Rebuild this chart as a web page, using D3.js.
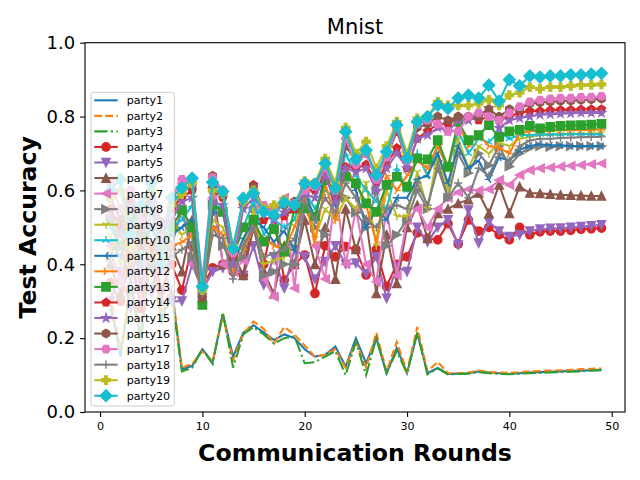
<!DOCTYPE html>
<html>
<head>
<meta charset="utf-8">
<script src="https://cdn.jsdelivr.net/npm/d3@7"></script>
<style>
  body { margin: 0; background: #fff; }
  svg { display: block; font-family: "DejaVu Sans", sans-serif; }
</style>
</head>
<body>
<svg id="chart" width="640" height="480"></svg>
<script>
// communication rounds 1..49
const rounds = d3.range(1, 50);

const party1 = [0.30, 0.15, 0.35, 0.20, 0.45, 0.25, 0.33,
  0.115, 0.125, 0.17, 0.135, 0.265, 0.15, 0.215, 0.235, 0.215, 0.195,
  0.21, 0.20, 0.17, 0.15, 0.155, 0.177, 0.123, 0.20, 0.132, 0.20,
  0.105, 0.173, 0.105, 0.214, 0.105, 0.119, 0.103, 0.104, 0.105, 0.11,
  0.107, 0.105, 0.103, 0.105, 0.107, 0.108, 0.109, 0.11, 0.111, 0.112,
  0.113, 0.114];
const party2 = [0.32, 0.17, 0.33, 0.22, 0.43, 0.27, 0.34,
  0.12, 0.13, 0.165, 0.135, 0.26, 0.14, 0.21, 0.245, 0.225, 0.185,
  0.23, 0.21, 0.18, 0.15, 0.155, 0.17, 0.12, 0.19, 0.12, 0.215,
  0.11, 0.19, 0.11, 0.23, 0.11, 0.136, 0.105, 0.105, 0.107, 0.112,
  0.108, 0.107, 0.106, 0.108, 0.11, 0.111, 0.112, 0.113, 0.114, 0.116,
  0.117, 0.118];
const party3 = [0.28, 0.16, 0.34, 0.19, 0.44, 0.24, 0.32,
  0.11, 0.12, 0.17, 0.13, 0.27, 0.12, 0.21, 0.23, 0.21, 0.185,
  0.20, 0.205, 0.132, 0.135, 0.15, 0.165, 0.10, 0.19, 0.10, 0.20,
  0.105, 0.165, 0.105, 0.215, 0.102, 0.118, 0.102, 0.103, 0.104, 0.108,
  0.105, 0.103, 0.102, 0.104, 0.105, 0.106, 0.107, 0.108, 0.109, 0.11,
  0.112, 0.113];
const party4 = [0.35, 0.30, 0.42, 0.28, 0.45, 0.33, 0.40,
  0.33, 0.45, 0.34, 0.39, 0.40, 0.38, 0.37, 0.55, 0.40, 0.53,
  0.357, 0.40, 0.425, 0.321, 0.45, 0.42, 0.448, 0.44, 0.371, 0.44,
  0.34, 0.40, 0.42, 0.485, 0.47, 0.466, 0.51, 0.455, 0.52, 0.49,
  0.50, 0.48, 0.466, 0.50, 0.48, 0.488, 0.49, 0.49, 0.492, 0.495,
  0.496, 0.498];
const party5 = [0.30, 0.38, 0.28, 0.40, 0.32, 0.45, 0.30,
  0.30, 0.40, 0.33, 0.38, 0.39, 0.40, 0.37, 0.45, 0.344, 0.42,
  0.335, 0.44, 0.42, 0.36, 0.407, 0.45, 0.40, 0.403, 0.375, 0.42,
  0.308, 0.393, 0.38, 0.50, 0.46, 0.50, 0.52, 0.452, 0.547, 0.457,
  0.515, 0.49, 0.475, 0.48, 0.49, 0.495, 0.497, 0.498, 0.50, 0.502,
  0.504, 0.507];
const party6 = [0.40, 0.32, 0.48, 0.35, 0.42, 0.30, 0.45,
  0.38, 0.52, 0.31, 0.62, 0.40, 0.43, 0.37, 0.50, 0.38, 0.32,
  0.45, 0.40, 0.52, 0.40, 0.50, 0.36, 0.55, 0.44, 0.52, 0.321,
  0.48, 0.348, 0.50, 0.56, 0.47, 0.538, 0.55, 0.565, 0.575, 0.593,
  0.538, 0.615, 0.538, 0.61, 0.593, 0.592, 0.59, 0.588, 0.587, 0.586,
  0.585, 0.585];
const party7 = [0.45, 0.35, 0.52, 0.30, 0.55, 0.38, 0.50,
  0.62, 0.40, 0.35, 0.58, 0.40, 0.38, 0.41, 0.55, 0.36, 0.312,
  0.58, 0.335, 0.60, 0.45, 0.36, 0.60, 0.40, 0.55, 0.40, 0.353,
  0.55, 0.37, 0.52, 0.55, 0.50, 0.55, 0.58, 0.595, 0.603, 0.60,
  0.603, 0.628, 0.615, 0.642, 0.655, 0.66, 0.662, 0.665, 0.667, 0.669,
  0.671, 0.673];
const party8 = [0.42, 0.50, 0.38, 0.55, 0.40, 0.52, 0.45,
  0.55, 0.42, 0.32, 0.50, 0.45, 0.40, 0.42, 0.52, 0.37, 0.38,
  0.40, 0.40, 0.55, 0.50, 0.48, 0.60, 0.58, 0.54, 0.50, 0.60,
  0.45, 0.48, 0.52, 0.60, 0.55, 0.68, 0.58, 0.70, 0.647, 0.70,
  0.668, 0.72, 0.665, 0.70, 0.715, 0.72, 0.718, 0.72, 0.72, 0.72,
  0.72, 0.72];
const party9 = [0.48, 0.40, 0.55, 0.42, 0.50, 0.45, 0.52,
  0.48, 0.50, 0.35, 0.52, 0.50, 0.42, 0.45, 0.55, 0.40, 0.41,
  0.42, 0.45, 0.62, 0.47, 0.55, 0.52, 0.58, 0.55, 0.62, 0.45,
  0.60, 0.53, 0.53, 0.65, 0.55, 0.70, 0.60, 0.74, 0.66, 0.72,
  0.70, 0.73, 0.72, 0.74, 0.745, 0.75, 0.75, 0.752, 0.752, 0.753,
  0.754, 0.755];
const party10 = [0.50, 0.45, 0.58, 0.40, 0.55, 0.48, 0.50,
  0.52, 0.56, 0.33, 0.55, 0.56, 0.44, 0.50, 0.57, 0.48, 0.52,
  0.50, 0.52, 0.60, 0.55, 0.60, 0.58, 0.70, 0.64, 0.60, 0.57,
  0.55, 0.66, 0.60, 0.70, 0.64, 0.72, 0.66, 0.76, 0.70, 0.74,
  0.73, 0.76, 0.74, 0.75, 0.75, 0.752, 0.752, 0.752, 0.753, 0.753,
  0.753, 0.752];
const party11 = [0.46, 0.42, 0.52, 0.45, 0.50, 0.44, 0.48,
  0.50, 0.52, 0.32, 0.54, 0.54, 0.40, 0.47, 0.52, 0.50, 0.46,
  0.49, 0.44, 0.60, 0.52, 0.65, 0.56, 0.66, 0.60, 0.50, 0.55,
  0.52, 0.58, 0.58, 0.63, 0.64, 0.70, 0.62, 0.72, 0.66, 0.68,
  0.63, 0.69, 0.68, 0.71, 0.72, 0.725, 0.722, 0.722, 0.72, 0.72,
  0.72, 0.72];
const party12 = [0.44, 0.48, 0.40, 0.50, 0.42, 0.46, 0.45,
  0.46, 0.48, 0.30, 0.50, 0.48, 0.38, 0.44, 0.50, 0.47, 0.45,
  0.44, 0.50, 0.58, 0.46, 0.62, 0.52, 0.66, 0.62, 0.56, 0.46,
  0.64, 0.60, 0.64, 0.68, 0.66, 0.72, 0.66, 0.78, 0.72, 0.75,
  0.72, 0.715, 0.70, 0.755, 0.76, 0.762, 0.762, 0.763, 0.763, 0.764,
  0.764, 0.765];
const party13 = [0.52, 0.45, 0.55, 0.48, 0.58, 0.42, 0.50,
  0.547, 0.50, 0.29, 0.56, 0.542, 0.42, 0.50, 0.52, 0.461, 0.495,
  0.434, 0.55, 0.552, 0.53, 0.628, 0.60, 0.637, 0.619, 0.565, 0.542,
  0.615, 0.637, 0.61, 0.687, 0.684, 0.736, 0.664, 0.786, 0.736, 0.75,
  0.777, 0.745, 0.76, 0.764, 0.775, 0.768, 0.772, 0.775, 0.776, 0.777,
  0.778, 0.78];
const party14 = [0.55, 0.50, 0.58, 0.45, 0.60, 0.48, 0.55,
  0.58, 0.60, 0.31, 0.60, 0.58, 0.42, 0.56, 0.615, 0.52, 0.53,
  0.53, 0.55, 0.60, 0.60, 0.64, 0.58, 0.664, 0.66, 0.67, 0.62,
  0.67, 0.715, 0.66, 0.74, 0.76, 0.78, 0.78, 0.80, 0.80, 0.79,
  0.80, 0.79, 0.80, 0.81, 0.815, 0.815, 0.817, 0.818, 0.818, 0.819,
  0.82, 0.82];
const party15 = [0.53, 0.48, 0.56, 0.50, 0.58, 0.46, 0.52,
  0.57, 0.58, 0.33, 0.57, 0.56, 0.40, 0.55, 0.58, 0.55, 0.52,
  0.54, 0.56, 0.59, 0.58, 0.64, 0.57, 0.66, 0.65, 0.66, 0.60,
  0.66, 0.70, 0.66, 0.74, 0.75, 0.77, 0.76, 0.79, 0.79, 0.80,
  0.823, 0.769, 0.79, 0.796, 0.80, 0.805, 0.806, 0.808, 0.809, 0.81,
  0.81, 0.81];
const party16 = [0.58, 0.52, 0.60, 0.50, 0.62, 0.50, 0.56,
  0.60, 0.61, 0.31, 0.64, 0.59, 0.43, 0.57, 0.61, 0.55, 0.55,
  0.56, 0.57, 0.61, 0.62, 0.66, 0.60, 0.72, 0.68, 0.70, 0.64,
  0.69, 0.76, 0.68, 0.77, 0.78, 0.80, 0.79, 0.80, 0.80, 0.80,
  0.82, 0.80, 0.82, 0.82, 0.835, 0.838, 0.84, 0.842, 0.843, 0.845,
  0.846, 0.848];
const party17 = [0.62, 0.55, 0.60, 0.52, 0.63, 0.48, 0.58,
  0.63, 0.62, 0.36, 0.635, 0.60, 0.43, 0.57, 0.59, 0.56, 0.55,
  0.57, 0.565, 0.60, 0.61, 0.66, 0.60, 0.74, 0.67, 0.70, 0.63,
  0.69, 0.77, 0.68, 0.78, 0.79, 0.78, 0.76, 0.76, 0.80, 0.81,
  0.80, 0.79, 0.81, 0.827, 0.84, 0.845, 0.848, 0.85, 0.85, 0.852,
  0.853, 0.855];
const party18 = [0.40, 0.45, 0.35, 0.48, 0.38, 0.50, 0.42,
  0.44, 0.46, 0.32, 0.48, 0.47, 0.36, 0.45, 0.50, 0.42, 0.43,
  0.44, 0.47, 0.57, 0.52, 0.58, 0.54, 0.62, 0.58, 0.52, 0.50,
  0.55, 0.56, 0.55, 0.62, 0.56, 0.66, 0.58, 0.62, 0.58, 0.66,
  0.64, 0.70, 0.68, 0.72, 0.735, 0.74, 0.74, 0.742, 0.743, 0.744,
  0.745, 0.745];
const party19 = [0.58, 0.60, 0.45, 0.55, 0.60, 0.42, 0.56,
  0.59, 0.62, 0.33, 0.60, 0.59, 0.45, 0.57, 0.60, 0.55, 0.56,
  0.575, 0.56, 0.625, 0.62, 0.686, 0.62, 0.77, 0.70, 0.732, 0.66,
  0.72, 0.786, 0.70, 0.795, 0.80, 0.84, 0.83, 0.83, 0.83, 0.835,
  0.845, 0.83, 0.858, 0.865, 0.88, 0.875, 0.88, 0.88, 0.883, 0.885,
  0.886, 0.887];
const party20 = [0.60, 0.63, 0.48, 0.56, 0.62, 0.40, 0.58,
  0.607, 0.633, 0.34, 0.622, 0.597, 0.443, 0.579, 0.592, 0.542, 0.533,
  0.567, 0.56, 0.619, 0.617, 0.673, 0.606, 0.759, 0.684, 0.709, 0.642,
  0.705, 0.777, 0.687, 0.786, 0.80, 0.831, 0.822, 0.85, 0.858, 0.85,
  0.885, 0.842, 0.90, 0.883, 0.91, 0.907, 0.91, 0.91, 0.913, 0.913,
  0.915, 0.917];

const names = d3.range(1, 21).map(i => "party" + i);
const values = [party1, party2, party3, party4, party5, party6, party7, party8, party9, party10,
  party11, party12, party13, party14, party15, party16, party17, party18, party19, party20];
const yTicks = [0, 0.2, 0.4, 0.6, 0.8, 1.0];
const xTicks = [0, 10, 20, 30, 40, 50];

// matplotlib tab10 cycle, dashes, markers
const tab10 = ["#1f77b4", "#ff7f0e", "#2ca02c", "#d62728", "#9467bd",
               "#8c564b", "#e377c2", "#7f7f7f", "#bcbd22", "#17becf"];
const dashes = [null, "7.7,3.3", "13.3,3.3,2.1,3.3"];
const markers = [null, null, null, "o", "v", "^", "<", ">", "1", "2", "3", "4",
                 "s", "p", "*", "h", "H", "+", "P", "D"];

const series = names.map((name, i) => ({
  name: name,
  color: tab10[i % 10],
  dash: dashes[i] || null,
  marker: markers[i],
  points: rounds.map((r, j) => ({ x: r, y: values[i][j] }))
}));

const svg = d3.select("#chart");
const margin = { left: 85, right: 625, top: 42.7, bottom: 412 };

const x = d3.scaleLinear().domain([-1.47, 51.3]).range([margin.left, margin.right]);
const y = d3.scaleLinear().domain([0, 1]).range([margin.bottom, margin.top]);

// marker shapes, size in px (6pt at 100dpi)
const MS = 8.33;
function poly(n, r, rot) {
  let p = [];
  for (let k = 0; k < n; k++) {
    let a = rot + k * 2 * Math.PI / n;
    p.push([r * Math.cos(a), r * Math.sin(a)]);
  }
  return "M" + p.map(q => q.join(",")).join("L") + "Z";
}
function markerPath(m) {
  const h = MS / 2;
  switch (m) {
    case "o": return `M${h},0A${h},${h} 0 1,1 ${-h},0A${h},${h} 0 1,1 ${h},0Z`;
    case "v": return `M${-h},${-h}L${h},${-h}L0,${h}Z`;
    case "^": return `M${-h},${h}L${h},${h}L0,${-h}Z`;
    case "<": return `M${h},${-h}L${h},${h}L${-h},0Z`;
    case ">": return `M${-h},${-h}L${-h},${h}L${h},0Z`;
    case "1": return `M0,0L0,${h}M0,0L${-0.866 * h},${-0.5 * h}M0,0L${0.866 * h},${-0.5 * h}`;
    case "2": return `M0,0L0,${-h}M0,0L${-0.866 * h},${0.5 * h}M0,0L${0.866 * h},${0.5 * h}`;
    case "3": return `M0,0L${-h},0M0,0L${0.5 * h},${-0.866 * h}M0,0L${0.5 * h},${0.866 * h}`;
    case "4": return `M0,0L${h},0M0,0L${-0.5 * h},${-0.866 * h}M0,0L${-0.5 * h},${0.866 * h}`;
    case "s": return `M${-h},${-h}H${h}V${h}H${-h}Z`;
    case "p": return poly(5, h, -Math.PI / 2);
    case "*": {
      let p = [];
      for (let k = 0; k < 10; k++) {
        let r = k % 2 ? h * 0.381966 : h;
        let a = -Math.PI / 2 + k * Math.PI / 5;
        p.push([r * Math.cos(a), r * Math.sin(a)]);
      }
      return "M" + p.map(q => q.join(",")).join("L") + "Z";
    }
    case "h": return poly(6, h, -Math.PI / 2);
    case "H": return poly(6, h, 0);
    case "+": return `M${-h},0H${h}M0,${-h}V${h}`;
    case "P": {
      const t = h / 3;
      return `M${-t},${-h}H${t}V${-t}H${h}V${t}H${t}V${h}H${-t}V${t}H${-h}V${-t}H${-t}Z`;
    }
    case "D": {
      const d = MS * 0.7071;
      return `M0,${-d}L${d},0L0,${d}L${-d},0Z`;
    }
  }
  return "";
}
const lineMarkers = ["1", "2", "3", "4", "+"];

// axes ticks
const gx = svg.append("g")
  .attr("transform", `translate(0,${margin.bottom})`)
  .call(d3.axisBottom(x).tickValues(xTicks).tickSize(4.9).tickPadding(4.9));
gx.select(".domain").remove();
gx.selectAll("line").attr("stroke", "#000").attr("stroke-width", 1.1);
gx.selectAll("text").attr("font-family", "DejaVu Sans").attr("font-size", 11.1).attr("fill", "#000");

const gy = svg.append("g")
  .attr("transform", `translate(${margin.left},0)`)
  .call(d3.axisLeft(y).tickValues(yTicks).tickFormat(d3.format(".1f")).tickSize(4.9).tickPadding(4.9));
gy.select(".domain").remove();
gy.selectAll("line").attr("stroke", "#000").attr("stroke-width", 1.1);
gy.selectAll("text").attr("font-family", "DejaVu Sans").attr("font-size", 18).attr("fill", "#000");

// series
svg.append("clipPath").attr("id", "plotclip")
  .append("rect").attr("x", margin.left).attr("y", margin.top)
  .attr("width", margin.right - margin.left).attr("height", margin.bottom - margin.top);

const line = d3.line().x(d => x(d.x)).y(d => y(d.y));
const plot = svg.append("g").attr("clip-path", "url(#plotclip)");

series.forEach(s => {
  const g = plot.append("g");
  g.append("path")
    .attr("d", line(s.points))
    .attr("fill", "none")
    .attr("stroke", s.color)
    .attr("stroke-width", 2.08)
    .attr("stroke-dasharray", s.dash);
  if (s.marker) {
    const isLine = lineMarkers.includes(s.marker);
    g.selectAll("path.mk")
      .data(s.points)
      .join("path")
      .attr("class", "mk")
      .attr("transform", d => `translate(${x(d.x)},${y(d.y)})`)
      .attr("d", markerPath(s.marker))
      .attr("fill", isLine ? "none" : s.color)
      .attr("stroke", s.color)
      .attr("stroke-width", 1.39);
  }
});

// frame
svg.append("rect")
  .attr("x", margin.left).attr("y", margin.top)
  .attr("width", margin.right - margin.left).attr("height", margin.bottom - margin.top)
  .attr("fill", "none").attr("stroke", "#000").attr("stroke-width", 1.1);

// labels
svg.append("text")
  .attr("x", (margin.left + margin.right) / 2).attr("y", 34)
  .attr("text-anchor", "middle").attr("font-size", 21)
  .text("Mnist");

svg.append("text")
  .attr("x", (margin.left + margin.right) / 2).attr("y", 461)
  .attr("text-anchor", "middle").attr("font-size", 23.6).attr("font-weight", "bold")
  .text("Communication Rounds");

svg.append("text")
  .attr("transform", `translate(36,${(margin.top + margin.bottom) / 2}) rotate(-90)`)
  .attr("text-anchor", "middle").attr("font-size", 23.6).attr("font-weight", "bold")
  .text("Test Accuracy");

// legend
const legend = svg.append("g");
legend.append("rect")
  .attr("x", 91).attr("y", 92.3).attr("width", 83.3).attr("height", 313.7)
  .attr("rx", 2.5)
  .attr("fill", "#fff").attr("fill-opacity", 0.8)
  .attr("stroke", "#cccccc").attr("stroke-width", 1);

series.forEach((s, i) => {
  const cy = 100.3 + 15.55 * i;
  const row = legend.append("g");
  row.append("line")
    .attr("x1", 94.3).attr("x2", 117.7).attr("y1", cy).attr("y2", cy)
    .attr("stroke", s.color).attr("stroke-width", 2.08)
    .attr("stroke-dasharray", s.dash);
  if (s.marker) {
    row.append("path")
      .attr("transform", `translate(106,${cy})`)
      .attr("d", markerPath(s.marker))
      .attr("fill", lineMarkers.includes(s.marker) ? "none" : s.color)
      .attr("stroke", s.color).attr("stroke-width", 1.39);
  }
  row.append("text")
    .attr("x", 126.7).attr("y", cy).attr("dy", "0.36em")
    .attr("font-size", 11.1)
    .text(s.name);
});
</script>
</body>
</html>
